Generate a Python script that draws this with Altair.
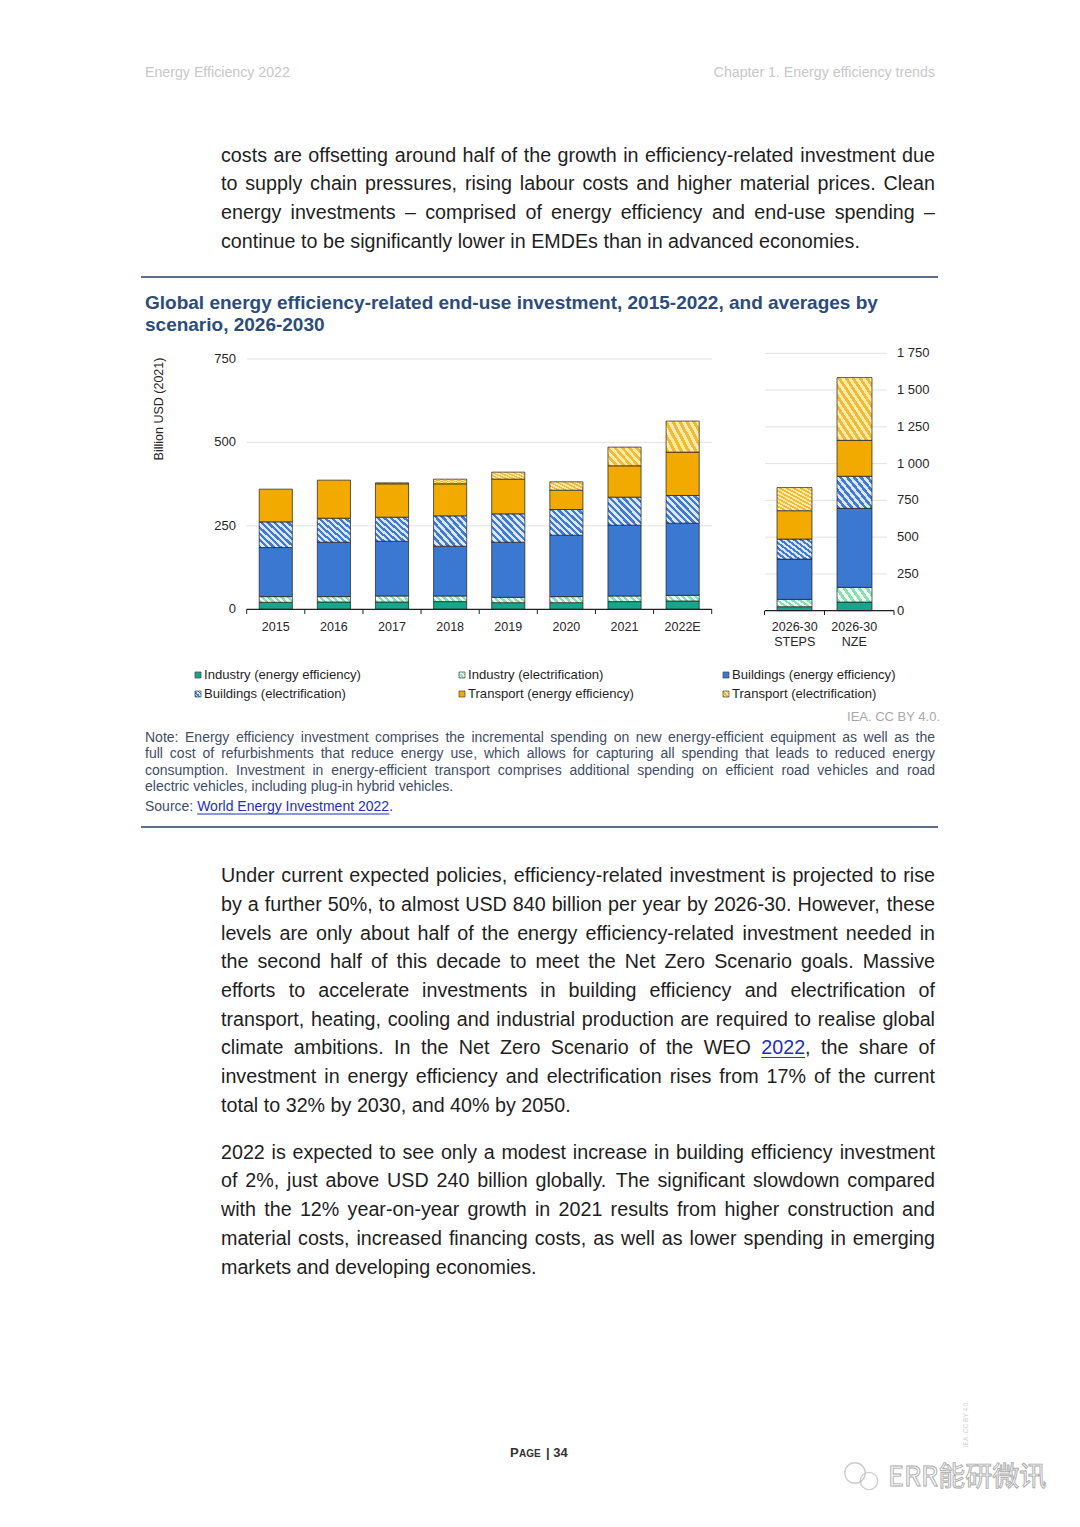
import altair as alt
import pandas as pd

OX, OY = 8, 8
FONT = "Liberation Sans"

# ---------------- chart data ----------------
years = ["2015", "2016", "2017", "2018", "2019", "2020", "2021", "2022E"]
scenarios = ["2026-30 STEPS", "2026-30 NZE"]
scenario_labels = ["2026-30\nSTEPS", "2026-30\nNZE"]
series = ["Industry (energy efficiency)", "Industry (electrification)",
          "Buildings (energy efficiency)", "Buildings (electrification)",
          "Transport (energy efficiency)", "Transport (electrification)"]
industry_ee = [21, 22, 22, 23, 20, 20, 23, 25]
industry_el = [17, 16, 18, 17, 16, 18, 17, 17]
buildings_ee = [147, 163, 164, 149, 165, 184, 212, 216]
buildings_el = [77, 72, 72, 91, 85, 77, 84, 83]
transport_ee = [98, 114, 100, 96, 104, 58, 94, 130]
transport_el = [0, 0, 3, 14, 21, 25, 56, 93]
steps = [27, 50, 274, 136, 193, 157]
nze = [59, 100, 537, 218, 244, 427]
left_ticks = [0, 250, 500, 750]
left_tick_labels = ["0", "250", "500", "750"]
right_ticks = [0, 250, 500, 750, 1000, 1250, 1500, 1750]
right_tick_labels = ["0", "250", "500", "750", "1 000", "1 250", "1 500", "1 750"]

# ---------------- page text ----------------
header_left = "Energy Efficiency 2022"
header_right = "Chapter 1. Energy efficiency trends"
para_top = [
    "costs are offsetting around half of the growth in efficiency-related investment due",
    "to supply chain pressures, rising labour costs and higher material prices. Clean",
    "energy investments – comprised of energy efficiency and end-use spending –",
    "continue to be significantly lower in EMDEs than in advanced economies.",
]
title_lines = [
    "Global energy efficiency-related end-use investment, 2015-2022, and averages by",
    "scenario, 2026-2030",
]
y_title = "Billion USD (2021)"
credit = "IEA. CC BY 4.0."
note_lines = [
    "Note: Energy efficiency investment comprises the incremental spending on new energy-efficient equipment as well as the",
    "full cost of refurbishments that reduce energy use, which allows for capturing all spending that leads to reduced energy",
    "consumption. Investment in energy-efficient transport comprises additional spending on efficient road vehicles and road",
    "electric vehicles, including plug-in hybrid vehicles.",
]
source_prefix = "Source:"
source_link = "World Energy Investment 2022"
para1 = [
    "Under current expected policies, efficiency-related investment is projected to rise",
    "by a further 50%, to almost USD 840 billion per year by 2026-30. However, these",
    "levels are only about half of the energy efficiency-related investment needed in",
    "the second half of this decade to meet the Net Zero Scenario goals. Massive",
    "efforts to accelerate investments in building efficiency and electrification of",
    "transport, heating, cooling and industrial production are required to realise global",
    "climate ambitions. In the Net Zero Scenario of the WEO 2022, the share of",
    "investment in energy efficiency and electrification rises from 17% of the current",
    "total to 32% by 2030, and 40% by 2050.",
]
para2 = [
    "2022 is expected to see only a modest increase in building efficiency investment",
    "of 2%, just above USD 240 billion globally. The significant slowdown compared",
    "with the 12% year-on-year growth in 2021 results from higher construction and",
    "material costs, increased financing costs, as well as lower spending in emerging",
    "markets and developing economies.",
]
watermark = "ERR能研微讯"
side_credit = "IEA. CC BY 4.0."

# ---------------- styles ----------------
series_colors = ["#17a68b", "#86e3b0", "#3b78d2", "#3f7bd6", "#f2a900", "#f3bb35"]
hatch_bg = [None, "#f4fff8", None, "#dce8f8", None, "#fdeba9"]
hatched = [False, True, False, True, False, True]
left_hatch = {1: (0.17, 6), 3: (0.82, 9), 5: (0.5, 7)}
right_hatch = {1: (0.3, 6), 3: (0.75, 9), 5: (1.2, 11)}
legend_hatch = {1: (1.0, 3), 3: (1.0, 3), 5: (1.0, 3)}
STROKE = "#1c1c1c"
LABEL = "#262626"
BODY = "#1e1e1e"
NOTE = "#3d4d66"
LINK = "#1f2fb8"
TITLE = "#2b4c7c"

AW = {' ': 278, '!': 278, '"': 355, '#': 556, '$': 556, '%': 889, '&': 667, "'": 191,
      '(': 333, ')': 333, '*': 389, '+': 584, ',': 278, '-': 333, '.': 278, '/': 278,
      ':': 278, ';': 278, '?': 556, '–': 556, '|': 260}
for d in "0123456789":
    AW[d] = 556
AW.update(dict(A=667, B=667, C=722, D=722, E=667, F=611, G=778, H=722, I=278, J=500, K=667,
               L=556, M=833, N=722, O=778, P=667, Q=778, R=722, S=667, T=611, U=722, V=667,
               W=944, X=667, Y=667, Z=611))
AW.update(dict(a=556, b=556, c=500, d=556, e=556, f=278, g=556, h=556, i=222, j=222, k=500,
               l=222, m=833, n=556, o=556, p=556, q=556, r=333, s=500, t=278, u=556, v=500,
               w=722, x=500, y=500, z=500))


def unit_w(s):
    return sum(AW.get(c, 556) for c in s) / 1000.0


def layout(lines, ys, x0, x1, size, justify):
    rows = []
    for li, (line, y, j) in enumerate(zip(lines, ys, justify)):
        words = line.split(" ")
        ws = [unit_w(w) * size for w in words]
        if j and len(words) > 1:
            gap = (x1 - x0 - sum(ws)) / (len(words) - 1)
        else:
            gap = unit_w(" ") * size
        x = x0
        for w, wd in zip(words, ws):
            rows.append({"x": x, "y": y, "t": w, "line": li})
            x += wd + gap
    return rows


def hatch(c1, c2, r, k):
    s = (1 + r) / (1 + r * r)
    stops = []
    for i in range(k):
        a, m, b = i / k, (i + 0.5) / k, (i + 1) / k
        stops += [{"offset": round(a, 4), "color": c1}, {"offset": round(m, 4), "color": c1},
                  {"offset": round(m, 4), "color": c2}, {"offset": round(b, 4), "color": c2}]
    return {"gradient": "linear", "x1": 0, "y1": 1, "x2": round(s, 4), "y2": round(1 - s * r, 4),
            "stops": stops}


def fill_for(j, params):
    if hatched[j]:
        r, k = params[j]
        return hatch(series_colors[j], hatch_bg[j], r, k)
    return series_colors[j]


def text_layer(rows, **kw):
    df = pd.DataFrame([{"x": r["x"] - OX, "y": r["y"] - OY, "t": r["t"]} for r in rows])
    props = dict(align="left", baseline="middle", font=FONT)
    props.update(kw)
    return alt.Chart(df).mark_text(**props).encode(
        x=alt.X("x:Q", scale=None), y=alt.Y("y:Q", scale=None), text="t:N")


def hrule(rows, color, width):
    df = pd.DataFrame([{"x": r["x"] - OX, "x2": r["x2"] - OX, "y": r["y"] - OY} for r in rows])
    return alt.Chart(df).mark_rule(color=color, strokeWidth=width).encode(
        x=alt.X("x:Q", scale=None), x2="x2:Q", y=alt.Y("y:Q", scale=None))


# ---------------- scales ----------------
L_R0, L_R1, L_PI, L_PO = 238.7, 703.7, 0.43, 0.215
R_R0, R_R1, R_PI, R_PO = 757.0, 876.0, 0.417, 0.2
l_step = (L_R1 - L_R0) / (len(years) - L_PI + 2 * L_PO)
r_step = (R_R1 - R_R0) / (len(scenarios) - R_PI + 2 * R_PO)
xs_left = alt.Scale(domain=years, range=[L_R0, L_R1], paddingInner=L_PI, paddingOuter=L_PO)
xs_right = alt.Scale(domain=scenarios, range=[R_R0, R_R1], paddingInner=R_PI, paddingOuter=R_PO)
ys_left = alt.Scale(domain=[0, 750], range=[601.3, 351.0], nice=False, zero=False)
ys_right = alt.Scale(domain=[0, 1750], range=[602.7, 345.3], nice=False, zero=False)

arrays = [industry_ee, industry_el, buildings_ee, buildings_el, transport_ee, transport_el]
hist_df = pd.DataFrame([{"cat": y, "series": s, "order": j, "value": arrays[j][i]}
                        for i, y in enumerate(years) for j, s in enumerate(series)])
scen_arrays = [steps, nze]
scen_df = pd.DataFrame([{"cat": c, "series": s, "order": j, "value": scen_arrays[i][j]}
                        for i, c in enumerate(scenarios) for j, s in enumerate(series)])


def bars(df, xscale, yscale, params):
    out = []
    for j in range(len(series)):
        out.append(
            alt.Chart(df)
            .transform_stack(stack="value", groupby=["cat"], as_=["v0", "v1"],
                             sort=[alt.SortField("order", order="ascending")])
            .transform_filter(f"datum.order == {j} && datum.value > 0")
            .mark_bar(fill=fill_for(j, params), stroke=STROKE, strokeWidth=0.7)
            .encode(x=alt.X("cat:N", scale=xscale, axis=None),
                    y=alt.Y("v1:Q", scale=yscale, axis=None), y2="v0:Q")
        )
    return out


layers = []

# gridlines
layers.append(alt.Chart(pd.DataFrame({"v": left_ticks[1:]})).mark_rule(color="#e2e2e2", strokeWidth=1).encode(
    y=alt.Y("v:Q", scale=ys_left, axis=None), x=alt.value(L_R0), x2=alt.value(L_R1 + 0.5)))
layers.append(alt.Chart(pd.DataFrame({"v": right_ticks[1:]})).mark_rule(color="#e2e2e2", strokeWidth=1).encode(
    y=alt.Y("v:Q", scale=ys_right, axis=None), x=alt.value(R_R0), x2=alt.value(879)))

layers += bars(hist_df, xs_left, ys_left, left_hatch)
layers += bars(scen_df, xs_right, ys_right, right_hatch)

# axis lines
layers.append(alt.Chart(pd.DataFrame({"v": [0]})).mark_rule(color="#202020", strokeWidth=1.2).encode(
    y=alt.Y("v:Q", scale=ys_left, axis=None), x=alt.value(L_R0), x2=alt.value(L_R1)))
layers.append(alt.Chart(pd.DataFrame({"v": [0]})).mark_rule(color="#202020", strokeWidth=1.2).encode(
    y=alt.Y("v:Q", scale=ys_right, axis=None), x=alt.value(R_R0), x2=alt.value(886)))
# ticks at category boundaries
layers.append(alt.Chart(pd.DataFrame({"cat": years})).mark_rule(
    color="#202020", strokeWidth=1, xOffset=-L_PI * l_step / 2).encode(
    x=alt.X("cat:N", scale=xs_left, axis=None, bandPosition=0), y=alt.value(601.3), y2=alt.value(606)))
layers.append(alt.Chart(pd.DataFrame({"v": [0]})).mark_rule(color="#202020", strokeWidth=1).encode(
    x=alt.value(L_R1), y=alt.value(601.3), y2=alt.value(606)))
layers.append(alt.Chart(pd.DataFrame({"cat": scenarios})).mark_rule(
    color="#202020", strokeWidth=1, xOffset=-R_PI * r_step / 2).encode(
    x=alt.X("cat:N", scale=xs_right, axis=None, bandPosition=0), y=alt.value(602.7), y2=alt.value(607)))
layers.append(alt.Chart(pd.DataFrame({"v": [0]})).mark_rule(color="#202020", strokeWidth=1).encode(
    x=alt.value(886), y=alt.value(602.7), y2=alt.value(607)))

# tick labels
layers.append(alt.Chart(pd.DataFrame({"v": left_ticks, "lab": left_tick_labels})).mark_text(
    align="right", baseline="middle", font=FONT, fontSize=13, color=LABEL).encode(
    y=alt.Y("v:Q", scale=ys_left, axis=None), x=alt.value(228), text="lab:N"))
layers.append(alt.Chart(pd.DataFrame({"v": right_ticks, "lab": right_tick_labels})).mark_text(
    align="left", baseline="middle", font=FONT, fontSize=13, color=LABEL).encode(
    y=alt.Y("v:Q", scale=ys_right, axis=None), x=alt.value(889), text="lab:N"))
layers.append(alt.Chart(pd.DataFrame({"cat": years})).mark_text(
    align="center", baseline="middle", font=FONT, fontSize=12.5, color=LABEL).encode(
    x=alt.X("cat:N", scale=xs_left, axis=None), y=alt.value(619), text="cat:N"))
layers.append(alt.Chart(pd.DataFrame({"cat": scenarios, "lab": scenario_labels})).mark_text(
    align="center", baseline="top", font=FONT, fontSize=12.5, color=LABEL, lineBreak="\n", lineHeight=15).encode(
    x=alt.X("cat:N", scale=xs_right, axis=None), y=alt.value(613), text="lab:N"))
layers.append(text_layer([{"x": 159, "y": 409, "t": y_title}], align="center", angle=270,
                         fontSize=12.5, color=LABEL))

# legend
col_x = [195, 459, 723]
row_y = [675, 694]
leg_rows = []
for j, s in enumerate(series):
    cx, ry = col_x[j % 3], row_y[j // 3]
    leg_rows.append({"x": cx + 9, "y": ry, "t": s})
    sw = pd.DataFrame([{"x": cx - OX, "x2": cx + 6 - OX, "y": ry - 3 - OY, "y2": ry + 3 - OY}])
    layers.append(alt.Chart(sw).mark_rect(fill=fill_for(j, legend_hatch), stroke="#444444", strokeWidth=0.7).encode(
        x=alt.X("x:Q", scale=None), x2="x2:Q", y=alt.Y("y:Q", scale=None), y2="y2:Q"))
layers.append(text_layer(leg_rows, fontSize=13.1, color="#1f1f1f"))

# header
layers.append(text_layer([{"x": 145, "y": 73, "t": header_left}], fontSize=14.2, color="#c8c8c8"))
layers.append(text_layer([{"x": 935, "y": 73, "t": header_right}], align="right", fontSize=14.2, color="#c8c8c8"))

# body text
just_body = para_top[:3] + para1[:8] + para2[:4]
body_size = min(20.0, 0.99 * min((935 - 221) / unit_w(l) for l in just_body))
para_top_y = [156, 184, 213, 242]
para1_y = [876, 905, 934, 962, 991, 1020, 1048, 1077, 1106]
para2_y = [1153, 1181, 1210, 1239, 1268]
body_rows = layout(para_top, para_top_y, 221, 935, body_size, [True, True, True, False])
body_rows += layout(para2, para2_y, 221, 935, body_size, [True] * 4 + [False])
link_rows, underline_rows = [], []
for r in layout(para1, para1_y, 221, 935, body_size, [True] * 8 + [False]):
    if r["line"] == 6 and r["t"] == "2022,":
        lw = unit_w("2022") * body_size
        link_rows.append({**r, "t": "2022"})
        body_rows.append({**r, "t": ",", "x": r["x"] + lw})
        underline_rows.append({"x": r["x"], "x2": r["x"] + lw, "y": r["y"] + 0.48 * body_size})
    else:
        body_rows.append(r)
layers.append(text_layer(body_rows, fontSize=body_size, color=BODY))

# separator rules
layers.append(hrule([{"x": 141, "x2": 938, "y": 277}, {"x": 141, "x2": 938, "y": 827}], "#5c6f8c", 2))

# title
layers.append(text_layer([{"x": 145, "y": y, "t": t} for t, y in zip(title_lines, [303, 325])],
                         fontSize=19, fontWeight="bold", color=TITLE))

# credit + note
layers.append(text_layer([{"x": 940, "y": 717, "t": credit}], align="right", fontSize=13, color="#a8a8a8"))
note_size = min(14.0, 0.99 * min((935 - 145) / unit_w(l) for l in note_lines[:3]))
note_rows = layout(note_lines, [738, 754, 771, 787], 145, 935, note_size, [True, True, True, False])
sx = 145 + unit_w(source_prefix + " ") * note_size
lw = unit_w(source_link) * note_size
note_rows.append({"x": 145, "y": 807, "t": source_prefix})
note_rows.append({"x": sx + lw, "y": 807, "t": "."})
link_rows.append({"x": sx, "y": 807, "t": source_link, "small": True})
underline_rows.append({"x": sx, "x2": sx + lw, "y": 807 + 0.5 * note_size})
layers.append(text_layer(note_rows, fontSize=note_size, color=NOTE))
layers.append(text_layer([r for r in link_rows if not r.get("small")], fontSize=body_size, color=LINK))
layers.append(text_layer([r for r in link_rows if r.get("small")], fontSize=note_size, color=LINK))
layers.append(hrule(underline_rows, LINK, 1))

# footer
layers.append(text_layer([{"x": 510, "y": 1453, "t": "P"}], fontSize=13, fontWeight="bold", color="#333333"))
layers.append(text_layer([{"x": 519, "y": 1454, "t": "AGE"}], fontSize=10, fontWeight="bold", color="#333333"))
layers.append(text_layer([{"x": 546, "y": 1453, "t": "| 34"}], fontSize=13, fontWeight="bold", color="#333333"))
layers.append(text_layer([{"x": 966, "y": 1424, "t": side_credit}], align="center", angle=270,
                         fontSize=6.5, color="#d2d2d2"))
icon = pd.DataFrame([{"x": 855 - OX, "y": 1473 - OY, "s": 420}, {"x": 869 - OX, "y": 1481 - OY, "s": 300}])
layers.append(alt.Chart(icon).mark_point(shape="circle", filled=False, color="#b8b8b8", strokeWidth=1.3).encode(
    x=alt.X("x:Q", scale=None), y=alt.Y("y:Q", scale=None), size=alt.Size("s:Q", scale=None, legend=None)))
layers.append(text_layer([{"x": 888, "y": 1478, "t": watermark}], font="Noto Sans CJK SC", fontSize=27,
                         fill="#ffffff", stroke="#a9a9a9", strokeWidth=0.9))

chart = (
    alt.layer(*layers)
    .resolve_scale(x="independent", y="independent")
    .properties(width=1064, height=1511, padding=0, background="white",
                autosize=alt.AutoSizeParams(type="none"))
    .configure_view(stroke=None)
)

chart.save("out.html", embed_options={"renderer": "svg", "actions": False})
